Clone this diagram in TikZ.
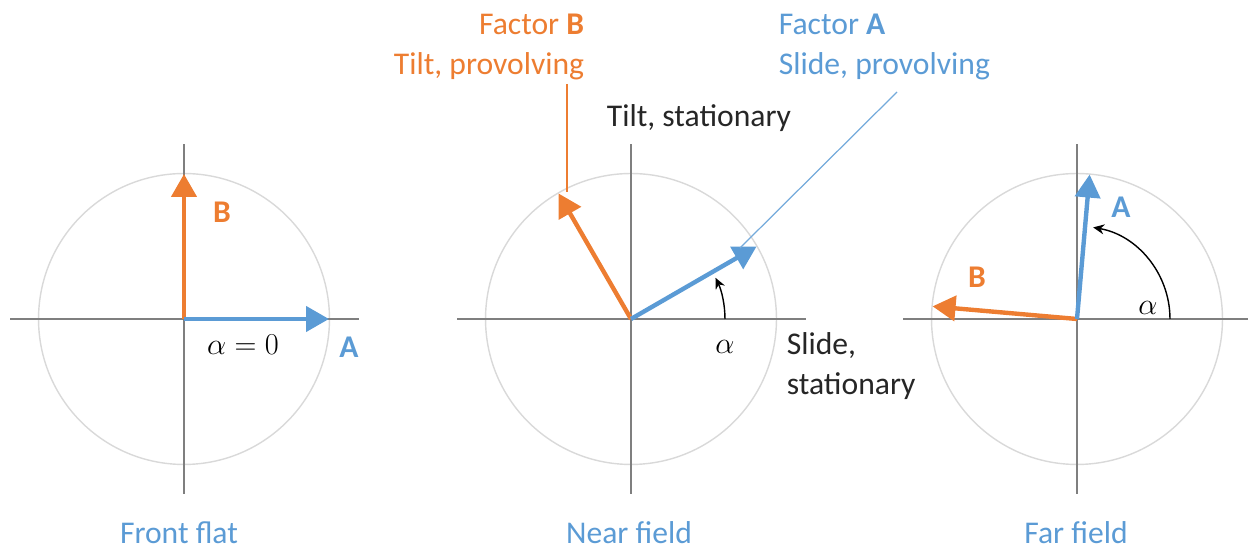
\documentclass[tikz,border=0pt]{standalone}
\usepackage[no-math]{fontspec}
\setmainfont{Carlito}
\usepackage{tikz}
\usetikzlibrary{arrows.meta,positioning,calc}
\definecolor{factorA}{HTML}{5B9BD5}
\definecolor{factorB}{HTML}{ED7D31}
\definecolor{axisgray}{HTML}{7F7F7F}
\definecolor{ringgray}{HTML}{D9D9D9}
\tikzset{
  axis/.style={draw=axisgray, line width=0.8pt},
  ring/.style={draw=ringgray, line width=0.8pt},
  vecA/.style={-{Triangle[length=0.46cm, width=0.5cm]}, line width=2.5pt, draw=factorA},
  vecB/.style={-{Triangle[length=0.46cm, width=0.5cm]}, line width=2.5pt, draw=factorB},
  angarrow/.style={-{Stealth[length=0.22cm, width=0.2cm]}, line width=0.8pt},
  leadA/.style={draw=factorA!85, line width=0.7pt},
  leadB/.style={draw=factorB, line width=0.8pt},
  lbl/.style={font=\fontsize{18}{22.8}\selectfont, inner sep=2pt},
  veclbl/.style={lbl, font=\fontsize{18}{22.8}\selectfont\bfseries}
}
\begin{document}
\begin{tikzpicture}[x=0.02cm, y=0.02cm]
  \useasboundingbox (0,0) rectangle (1248,550);
  \coordinate (O1) at (184,231);
  \coordinate (O2) at (631,231);
  \coordinate (O3) at (1077,231);

  % circles and axes
  \foreach \c in {O1,O2,O3} {
    \draw[ring] (\c) circle[radius=2.91cm];
    \draw[axis] ($(\c)+(-174,0)$) -- ($(\c)+(175,0)$);
    \draw[axis] ($(\c)+(0,-175)$) -- ($(\c)+(0,175)$);
  }

  % front flat
  \coordinate (A1) at ($(O1)+(0:145)$);
  \coordinate (B1) at ($(O1)+(90:145)$);
  \draw[vecB] (O1) -- (B1);
  \draw[vecA] (O1) -- (A1);
  \node[veclbl, text=factorB] (labB1) at (222,338) {B};
  \node[veclbl, text=factorA] (labA1) at (349,203) {A};
  \node[lbl] (alpha1) at (243,205) {$\alpha = 0$};

  % near field
  \coordinate (A2) at ($(O2)+(30:145)$);
  \coordinate (B2) at ($(O2)+(120:145)$);
  \draw[vecB] (O2) -- (B2);
  \draw[vecA] (O2) -- (A2);
  \draw[angarrow] ($(O2)+(1.88cm,0)$) arc[start angle=0, end angle=26, radius=1.88cm];
  \node[lbl] (alpha2) at (725,203) {$\alpha$};

  % far field
  \coordinate (A3) at ($(O3)+(85:145)$);
  \coordinate (B3) at ($(O3)+(175:145)$);
  \draw[vecB] (O3) -- (B3);
  \draw[vecA] (O3) -- (A3);
  \draw[angarrow] ($(O3)+(1.86cm,0)$) arc[start angle=0, end angle=80, radius=1.86cm];
  \node[veclbl, text=factorA] (labA3) at (1121,343) {A};
  \node[veclbl, text=factorB] (labB3) at (977,273) {B};
  \node[lbl] (alpha3) at (1148,242) {$\alpha$};

  % factor labels
  \node[lbl, text=factorB, align=right, anchor=east] (factB) at (588,503) {Factor \textbf{B}\\Tilt, provolving};
  \node[lbl, text=factorA, align=left, anchor=west] (factA) at (775,503) {Factor \textbf{A}\\Slide, provolving};
  \node[lbl, text=black!85] (tiltst) at (699,432) {Tilt, stationary};
  \node[lbl, text=black!85, align=left, anchor=west] (slidest) at (783,184) {Slide,\\stationary};

  \coordinate (endB) at (567,358);
  \coordinate (startA) at (897,458);
  \coordinate (endA) at (740,302);
  \draw[leadB] (factB.south -| endB) -- (endB);
  \draw[leadA] (startA) -- (endA);

  % panel titles
  \node[lbl, text=factorA] (front) at (179,17) {Front flat};
  \node[lbl, text=factorA] (near) at (629,17) {Near field};
  \node[lbl, text=factorA] (far) at (1076,17) {Far field};
\end{tikzpicture}
\end{document}
